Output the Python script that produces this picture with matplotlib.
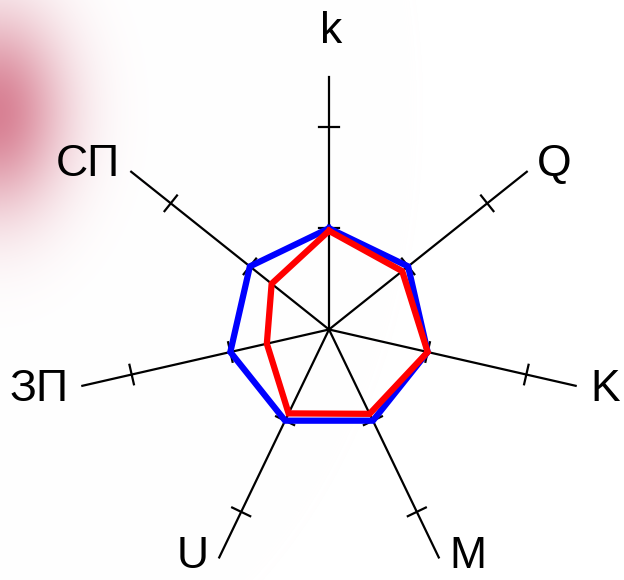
import numpy as np
import matplotlib
matplotlib.use("Agg")
import matplotlib.pyplot as plt

# ---- data ----
categories = ["k", "Q", "K", "M", "U", "ЗП", "СП"]
series_blue = [2.0, 2.0, 2.0, 2.0, 2.0, 2.0, 2.0]
series_red = [1.95, 1.85, 2.0, 1.85, 1.84, 1.26, 1.45]
tick_values = [2, 4]
r_max = 5.0

# ---- layout ----
W, H = 624, 580
cx_px, cy_px = 329, 329.5
R_px = 253.0
u = R_px / r_max  # pixels per unit

fig = plt.figure(figsize=(W / 100, H / 100), dpi=100)
ax = fig.add_axes([0, 0, 1, 1])
ax.set_xlim(-cx_px / u, (W - cx_px) / u)
ax.set_ylim(-(H - cy_px) / u, cy_px / u)
ax.axis("off")

# background pink blob (top-left)
yy, xx = np.mgrid[0:H, 0:W]
g = np.exp(-(((xx + 5) / 70.0) ** 2 + ((yy - 112) / 98.0) ** 2))
col = np.array([214, 122, 142]) / 255.0
img = np.ones((H, W, 3)) * (1 - 0.95 * g[..., None]) + col * (0.95 * g[..., None])
ax.imshow(img, extent=[-cx_px / u, (W - cx_px) / u, -(H - cy_px) / u, cy_px / u],
          origin="upper", zorder=0, aspect="auto")

n = len(categories)
angles = np.pi / 2 - np.arange(n) * 2 * np.pi / n

# axes and ticks
half = 10.0 / u
for a in angles:
    ax.plot([0, r_max * np.cos(a)], [0, r_max * np.sin(a)], color="black", lw=1.6, zorder=2)
    for t in tick_values:
        px, py = t * np.cos(a), t * np.sin(a)
        nx, ny = -np.sin(a), np.cos(a)
        ax.plot([px - half * nx, px + half * nx], [py - half * ny, py + half * ny],
                color="black", lw=1.6, zorder=2)

def close(v):
    v = np.asarray(v)
    return np.append(v, v[0])

aa = close(angles)
for vals, c, z in [(series_blue, "#0000ff", 3), (series_red, "#ff0000", 4)]:
    vv = close(vals)
    ax.plot(vv * np.cos(aa), vv * np.sin(aa), color=c, lw=4.5, zorder=z,
            solid_joinstyle="miter")

# labels (offsets in pixels from axis end)
offsets = [(2, 45), (27, 7), (30, -4), (29, 1), (-27, 1), (-43, -4), (-43, 7)]
for lab, a, (ox, oy) in zip(categories, angles, offsets):
    ex, ey = r_max * np.cos(a), r_max * np.sin(a)
    ax.text(ex + ox / u, ey + oy / u, lab, ha="center", va="center",
            fontsize=32, family=["Liberation Sans", "DejaVu Sans"], color="black", zorder=5)

fig.savefig("out.png", dpi=100)
